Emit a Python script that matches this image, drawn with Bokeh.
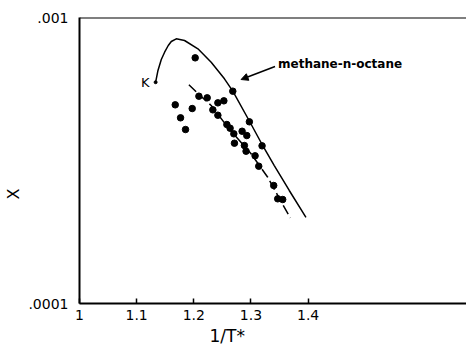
from bokeh.plotting import figure
from bokeh.models import FixedTicker, Span, Label, Arrow, NormalHead, Title
from bokeh.embed import file_html
from bokeh.resources import INLINE

# measured points (1/T*, X)
pts_x = [1.2682, 1.2089, 1.2234, 1.2421, 1.2526, 1.1675, 1.1972, 1.2333, 1.2421,
         1.1768, 1.2972, 1.2578, 1.2635, 1.1855, 1.2700, 1.2845, 1.2927, 1.2711,
         1.2885, 1.2914, 1.3194, 1.3072, 1.3136, 1.3398, 1.3468, 1.3555, 1.2024]
pts_y = [5.525e-4, 5.306e-4, 5.238e-4, 5.030e-4, 5.112e-4, 4.951e-4, 4.805e-4,
         4.755e-4, 4.553e-4, 4.459e-4, 4.318e-4, 4.225e-4, 4.101e-4, 4.058e-4,
         3.920e-4, 4.002e-4, 3.866e-4, 3.635e-4, 3.568e-4, 3.408e-4, 3.559e-4,
         3.284e-4, 3.020e-4, 2.586e-4, 2.323e-4, 2.310e-4, 7.226e-4]

# methane-n-octane curve (solid), starting at point K
curve_x = [1.1332, 1.1373, 1.1431, 1.1489, 1.1553, 1.1606, 1.1693, 1.1838, 1.2072,
           1.2304, 1.2536, 1.2682, 1.2972, 1.3176, 1.3408, 1.3670, 1.3962]
curve_y = [5.939e-4, 6.528e-4, 7.129e-4, 7.562e-4, 7.982e-4, 8.244e-4, 8.424e-4,
           8.310e-4, 7.771e-4, 6.977e-4, 6.104e-4, 5.525e-4, 4.346e-4, 3.655e-4,
           3.037e-4, 2.484e-4, 2.002e-4]

# dashed fit line
dash_x = [1.1914, 1.2129, 1.2304, 1.2595, 1.3002, 1.3293, 1.3555, 1.3688]
dash_y = [5.816e-4, 5.294e-4, 4.925e-4, 4.134e-4, 3.338e-4, 2.764e-4, 2.219e-4, 1.994e-4]

x_tick_values = [1.0, 1.1, 1.2, 1.3, 1.4]
x_tick_labels = ["1", "1.1", "1.2", "1.3", "1.4"]
y_tick_values = [1e-4, 1e-3]
y_tick_labels = [".0001", ".001"]

FONT = "DejaVu Sans"

p = figure(width=466, height=349, output_backend="svg", toolbar_location=None,
           x_range=(1.0, 1.6771), y_range=(1e-4, 1e-3), y_axis_type="log",
           min_border_left=78, min_border_right=0, min_border_top=17,
           min_border_bottom=46)
p.outline_line_color = None
p.grid.visible = False
p.background_fill_color = "white"
p.border_fill_color = "white"

xa = p.xaxis[0]
xa.ticker = FixedTicker(ticks=x_tick_values)
xa.major_label_overrides = dict(zip(x_tick_values, x_tick_labels))
xa.major_tick_in = 5
xa.major_tick_out = 0
xa.minor_tick_line_color = None
xa.axis_line_width = 2
xa.axis_line_color = "black"
xa.major_tick_line_color = "black"
xa.major_tick_line_width = 1.5
xa.major_label_text_font = FONT
xa.major_label_text_font_size = "14px"
xa.major_label_text_color = "black"
xa.major_label_standoff = 6

ya = p.yaxis[0]
ya.ticker = FixedTicker(ticks=y_tick_values)
ya.major_label_overrides = dict(zip(y_tick_values, y_tick_labels))
ya.major_tick_line_color = None
ya.minor_tick_line_color = None
ya.axis_line_width = 2
ya.axis_line_color = "black"
ya.major_label_text_font = FONT
ya.major_label_text_font_size = "14px"
ya.major_label_text_color = "black"
ya.major_label_standoff = 5

p.add_layout(Title(text="1/T*", align="left", offset=130, vertical_align="middle",
                   text_font=FONT, text_font_size="17px", text_font_style="normal",
                   text_color="black", standoff=4), "below")
p.add_layout(Title(text="X", align="left", offset=104, vertical_align="middle",
                   text_font=FONT, text_font_size="16px", text_font_style="normal",
                   text_color="black", standoff=4), "left")

p.add_layout(Span(location=1e-3, dimension="width", line_color="black", line_width=2))

p.line(curve_x, curve_y, line_color="black", line_width=1.5)
p.line(dash_x, dash_y, line_color="black", line_width=1.5, line_dash="10 4")
p.scatter(pts_x, pts_y, size=6.5, color="black")
p.scatter(curve_x[:1], curve_y[:1], size=3, color="black")

p.add_layout(Label(x=curve_x[0], y=curve_y[0], text="K", x_offset=-6,
                   text_align="right", text_baseline="middle", text_color="black",
                   text_font=FONT, text_font_size="13px"))
p.add_layout(Arrow(end=NormalHead(size=7, fill_color="black", line_color="black"),
                   x_start=1.3421, y_start=6.74e-4, x_end=1.2827, y_end=6.069e-4,
                   line_width=1.5, line_color="black"))
p.add_layout(Label(x=1.3473, y=6.85e-4, text="methane-n-octane",
                   text_align="left", text_baseline="middle", text_color="black",
                   text_font=FONT, text_font_size="12px", text_font_style="bold"))

open("out.html", "w").write(file_html(p, INLINE))
